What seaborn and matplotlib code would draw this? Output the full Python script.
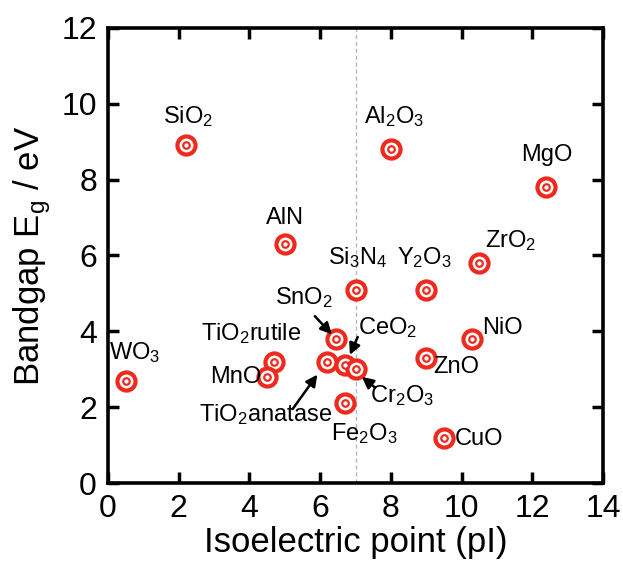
import matplotlib
matplotlib.use("Agg")
import matplotlib.pyplot as plt
import pandas as pd
import seaborn as sns

# oxide data: isoelectric point vs bandgap
names = ["WO3", "SiO2", "AlN", "TiO2 rutile", "MnO", "TiO2 anatase", "SnO2",
         "CeO2", "Cr2O3", "Fe2O3", "Si3N4", "Y2O3", "ZrO2", "Al2O3", "MgO",
         "NiO", "ZnO", "CuO"]
iep = [0.5, 2.2, 5.0, 4.7, 4.5, 6.2, 6.45, 6.7, 7.0, 6.7, 7.0, 9.0, 10.5,
       8.0, 12.4, 10.3, 9.0, 9.5]
gap = [2.7, 8.9, 6.3, 3.2, 2.8, 3.2, 3.8, 3.1, 3.0, 2.1, 5.1, 5.1, 5.8,
       8.8, 7.8, 3.8, 3.3, 1.2]

# label text, position, alignment
labels = [r"$\mathregular{WO_3}$", r"$\mathregular{SiO_2}$", "AlN",
          r"$\mathregular{TiO_2}$rutile", "MnO", r"$\mathregular{TiO_2}$anatase",
          r"$\mathregular{SnO_2}$", r"$\mathregular{CeO_2}$", r"$\mathregular{Cr_2O_3}$",
          r"$\mathregular{Fe_2O_3}$", r"$\mathregular{Si_3N_4}$", r"$\mathregular{Y_2O_3}$",
          r"$\mathregular{ZrO_2}$", r"$\mathregular{Al_2O_3}$", "MgO", "NiO", "ZnO", "CuO"]
lab_x = [0.75, 2.25, 5.0, 4.05, 4.35, 4.45, 5.55, 7.9, 8.3, 7.25, 7.05, 8.95,
         11.4, 8.1, 12.4, 11.15, 9.2, 9.8]
lab_y = [3.45, 9.65, 7.0, 3.95, 2.8, 1.8, 4.9, 4.1, 2.3, 1.3, 5.95, 5.95,
         6.4, 9.65, 8.65, 4.1, 3.05, 1.15]
lab_ha = ["center", "center", "center", "center", "right", "center", "center",
          "center", "center", "center", "center", "center", "center", "center",
          "center", "center", "left", "left"]

# arrows: (tail_x, tail_y, head_x, head_y)
arrows = [(5.85, 4.4, 6.33, 3.92),
          (7.06, 3.85, 6.84, 3.38),
          (7.55, 2.52, 7.18, 2.8),
          (5.22, 1.95, 5.92, 2.86)]

df = pd.DataFrame({"iep": iep, "gap": gap})

sns.set_style("ticks")
plt.rcParams["font.family"] = ["Liberation Sans", "DejaVu Sans"]
plt.rcParams["mathtext.fontset"] = "custom"
plt.rcParams["mathtext.rm"] = "Liberation Sans"
plt.rcParams["text.color"] = "black"
plt.rcParams["axes.labelcolor"] = "black"
plt.rcParams["xtick.color"] = "black"
plt.rcParams["ytick.color"] = "black"
plt.rcParams["axes.edgecolor"] = "black"

fig = plt.figure(figsize=(6.23, 5.69), dpi=100)
ax = fig.add_axes([0.1734, 0.151, 0.7946, 0.800])

ax.axvline(7.0, color="#a9bccd", lw=1.0, ls=(0, (3, 2)), zorder=1)

sns.scatterplot(data=df, x="iep", y="gap", ax=ax, s=170, marker="o",
                facecolor="white", edgecolor="#ee2a1f", linewidth=3.0, zorder=3)
sns.scatterplot(data=df, x="iep", y="gap", ax=ax, s=22, marker="o",
                facecolor="white", edgecolor="#ee2a1f", linewidth=1.6, zorder=4)

for t, x, y, ha in zip(labels, lab_x, lab_y, lab_ha):
    ax.text(x, y, t, ha=ha, va="center", fontsize=17, color="black")

for tx, ty, hx, hy in arrows:
    ax.annotate("", xy=(hx, hy), xytext=(tx, ty),
                arrowprops=dict(arrowstyle="-|>", color="black", lw=1.8,
                                mutation_scale=17, shrinkA=0, shrinkB=0))

ax.set_xlim(0, 14)
ax.set_ylim(0, 12)
ax.set_xticks(range(0, 15, 2))
ax.set_yticks(range(0, 13, 2))
ax.set_xlabel("Isoelectric point (pI)", fontsize=25, labelpad=1)
ax.set_ylabel(r"Bandgap E$_\mathregular{g}$ / eV", fontsize=25, labelpad=6)
ax.tick_params(direction="in", length=8, width=2.5, labelsize=23, pad=8,
               top=True, right=True)
for sp in ax.spines.values():
    sp.set_linewidth(2.6)

fig.savefig("out.png", dpi=100)
